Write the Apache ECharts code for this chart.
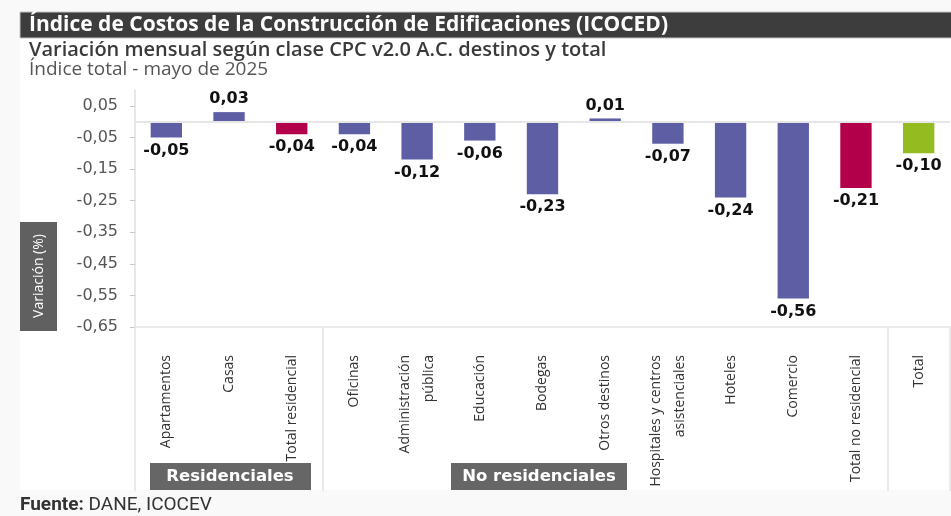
<!DOCTYPE html>
<html>
<head>
<meta charset="utf-8">
<title>ICOCED</title>
<script src="https://cdn.jsdelivr.net/npm/echarts@6.0.0/dist/echarts.min.js"></script>
<style>
  html, body { margin: 0; padding: 0; background: #f9f9f9; }
  #main { width: 951px; height: 516px; }
</style>
</head>
<body>
<div id="main"></div>
<script>
// datos (variacion mensual %, mayo 2025)
var categorias = ['Apartamentos', 'Casas', 'Total residencial', 'Oficinas', 'Administración\npública',
  'Educación', 'Bodegas', 'Otros destinos', 'Hospitales y centros\nasistenciales', 'Hoteles',
  'Comercio', 'Total no residencial', 'Total'];
var variacion = [-0.05, 0.03, -0.04, -0.04, -0.12, -0.06, -0.23, 0.01, -0.07, -0.24, -0.56, -0.21, -0.10];
var tipo = ['destino', 'destino', 'subtotal', 'destino', 'destino', 'destino', 'destino', 'destino',
  'destino', 'destino', 'destino', 'subtotal', 'total'];
var ticksY = [0.05, -0.05, -0.15, -0.25, -0.35, -0.45, -0.55, -0.65];
var inicioGrupo = [0, 3, 12];   // primera categoria de cada bloque
var grupos = ['Residenciales', 'No residenciales'];

var colores = { destino: '#5d5ea4', subtotal: '#b3004b', total: '#94bb1f' };

function coma(v) {
  return v.toFixed(2).replace('.', ',');
}

var chart = echarts.init(document.getElementById('main'));

var barras = [];
for (var i = 0; i < variacion.length; i++) {
  barras.push({
    value: variacion[i],
    itemStyle: { color: colores[tipo[i]] },
    label: { position: variacion[i] < 0 ? 'bottom' : 'top' }
  });
}

var option = {
  backgroundColor: '#f9f9f9',
  animation: false,
  grid: { left: 135, right: 1, top: 90, bottom: 189 },
  xAxis: {
    type: 'category',
    data: categorias,
    axisLine: { onZero: false, lineStyle: { color: '#e3e3e3', width: 1.5 } },
    axisTick: {
      show: true,
      length: 164,
      interval: function (idx) { return inicioGrupo.indexOf(idx) >= 0; },
      lineStyle: { color: '#e3e3e3', width: 1.5 }
    },
    axisLabel: {
      rotate: 90,
      margin: 28,
      interval: 0,
      color: '#333',
      fontFamily: '"Open Sans", sans-serif',
      fontSize: 14,
      lineHeight: 24
    }
  },
  yAxis: {
    type: 'value',
    min: -0.65,
    max: 0.1,
    axisLine: { show: true, lineStyle: { color: '#e0e0e0', width: 1.5 } },
    axisTick: { show: true, length: 5, customValues: ticksY, lineStyle: { color: '#c8c8c8' } },
    splitLine: { show: false },
    axisLabel: {
      customValues: ticksY,
      margin: 17,
      color: '#555',
      fontFamily: '"DejaVu Sans", sans-serif',
      fontSize: 16,
      formatter: function (v) { return coma(v); }
    }
  },
  series: [{
    type: 'bar',
    data: barras,
    barWidth: '50%',
    label: {
      show: true,
      distance: 5,
      color: '#111',
      fontFamily: '"DejaVu Sans", sans-serif',
      fontWeight: 'bold',
      fontSize: 16,
      formatter: function (p) { return coma(p.value); }
    },
    markLine: {
      silent: true,
      symbol: 'none',
      label: { show: false },
      lineStyle: { color: '#e6e6e6', type: 'solid', width: 2 },
      data: [{ yAxis: 0 }]
    }
  }],
  graphic: [
    { type: 'rect', z: -10, shape: { x: 20, y: 38, width: 931, height: 452 }, style: { fill: '#fff' } },
    { type: 'rect', z: 1, shape: { x: 20, y: 12, width: 932, height: 26 },
      style: { fill: '#3d3d3d', stroke: '#c4c4c4', lineWidth: 1 } },
    { type: 'text', z: 2, x: 29, y: 25,
      style: { text: 'Índice de Costos de la Construcción de Edificaciones (ICOCED)', fill: '#fff',
        font: 'bold 21px "Open Sans", sans-serif', verticalAlign: 'middle' } },
    { type: 'text', x: 29, y: 50,
      style: { text: 'Variación mensual según clase CPC v2.0 A.C. destinos y total', fill: '#3a3a3a',
        font: '600 20px "Open Sans", sans-serif', verticalAlign: 'middle' } },
    { type: 'text', x: 29, y: 70,
      style: { text: 'Índice total - mayo de 2025', fill: '#555',
        font: '19px "Open Sans", sans-serif', verticalAlign: 'middle' } },
    // caja del titulo del eje y
    { type: 'rect', shape: { x: 20, y: 222, width: 37, height: 109 }, style: { fill: '#606060' } },
    { type: 'text', x: 39, y: 276, rotation: Math.PI / 2,
      style: { text: 'Variación (%)', fill: '#fff', align: 'center', verticalAlign: 'middle',
        font: '14px "Open Sans", sans-serif' } },
    // etiquetas de grupo
    { type: 'rect', shape: { x: 150, y: 463, width: 161, height: 27 }, style: { fill: '#666' } },
    { type: 'text', x: 230, y: 477,
      style: { text: grupos[0], fill: '#fff', align: 'center', verticalAlign: 'middle',
        font: 'bold 16.5px "DejaVu Sans", sans-serif' } },
    { type: 'rect', shape: { x: 451, y: 463, width: 176, height: 27 }, style: { fill: '#666' } },
    { type: 'text', x: 539, y: 477,
      style: { text: grupos[1], fill: '#fff', align: 'center', verticalAlign: 'middle',
        font: 'bold 16.5px "DejaVu Sans", sans-serif' } },
    // fuente
    { type: 'text', x: 20, y: 505,
      style: {
        text: '{b|Fuente:} DANE, ICOCEV',
        verticalAlign: 'middle',
        fill: '#333',
        font: '19px Roboto, sans-serif',
        rich: { b: { fontWeight: 'bold', fontFamily: 'Roboto', fontSize: 19, fill: '#333' } }
      } }
  ]
};

chart.setOption(option);
</script>
</body>
</html>
